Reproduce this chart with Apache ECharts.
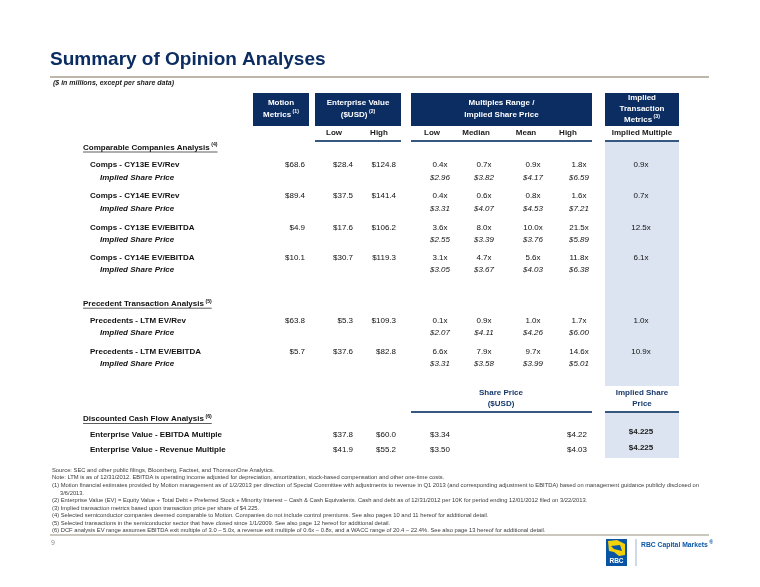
<!DOCTYPE html>
<html><head><meta charset="utf-8">
<script src="https://cdn.jsdelivr.net/npm/echarts@6/dist/echarts.min.js"></script>
<style>html,body{margin:0;padding:0;background:#fff}#c{width:760px;height:587px}</style>
</head><body><div id="c"></div>
<script>
// ================= DATA =================
const pageTitle = 'Summary of Opinion Analyses';
const pageSubtitle = '($ in millions, except per share data)';
const pageNumber = '9';
const brandName = 'RBC Capital Markets';

const headerMotion = ['Motion', 'Metrics'];            const headerMotionNote = '(1)';
const headerEV = ['Enterprise Value', '($USD)'];       const headerEVNote = '(2)';
const headerMultiples = ['Multiples Range /', 'Implied Share Price'];
const headerImplied = ['Implied', 'Transaction', 'Metrics']; const headerImpliedNote = '(3)';
const subHeadersEV = ['Low', 'High'];
const subHeadersMult = ['Low', 'Median', 'Mean', 'High'];
const subHeaderImplied = 'Implied Multiple';
const dcfHeaderPrice = ['Share Price', '($USD)'];
const dcfHeaderImplied = ['Implied Share', 'Price'];

const sectionTitles = ['Comparable Companies Analysis', 'Precedent Transaction Analysis', 'Discounted Cash Flow Analysis'];
const sectionNotes = ['(4)', '(5)', '(6)'];
const priceRowLabel = 'Implied Share Price';

// Comparable companies
const compsRows = ['Comps - CY13E EV/Rev', 'Comps - CY14E EV/Rev', 'Comps - CY13E EV/EBITDA', 'Comps - CY14E EV/EBITDA'];
const compsMotion = [68.6, 89.4, 4.9, 10.1];
const compsEvLow = [28.4, 37.5, 17.6, 30.7];
const compsEvHigh = [124.8, 141.4, 106.2, 119.3];
const compsMultLow = [0.4, 0.4, 3.6, 3.1];
const compsMultMedian = [0.7, 0.6, 8.0, 4.7];
const compsMultMean = [0.9, 0.8, 10.0, 5.6];
const compsMultHigh = [1.8, 1.6, 21.5, 11.8];
const compsPriceLow = [2.96, 3.31, 2.55, 3.05];
const compsPriceMedian = [3.82, 4.07, 3.39, 3.67];
const compsPriceMean = [4.17, 4.53, 3.76, 4.03];
const compsPriceHigh = [6.59, 7.21, 5.89, 6.38];
const compsImplied = [0.9, 0.7, 12.5, 6.1];

// Precedent transactions
const precRows = ['Precedents - LTM EV/Rev', 'Precedents - LTM EV/EBITDA'];
const precMotion = [63.8, 5.7];
const precEvLow = [5.3, 37.6];
const precEvHigh = [109.3, 82.8];
const precMultLow = [0.1, 6.6];
const precMultMedian = [0.9, 7.9];
const precMultMean = [1.0, 9.7];
const precMultHigh = [1.7, 14.6];
const precPriceLow = [2.07, 3.31];
const precPriceMedian = [4.11, 3.58];
const precPriceMean = [4.26, 3.99];
const precPriceHigh = [6.00, 5.01];
const precImplied = [1.0, 10.9];

// DCF
const dcfRows = ['Enterprise Value - EBITDA Multiple', 'Enterprise Value - Revenue Multiple'];
const dcfEvLow = [37.8, 41.9];
const dcfEvHigh = [60.0, 55.2];
const dcfPriceLow = [3.34, 3.50];
const dcfPriceHigh = [4.22, 4.03];
const dcfImplied = [4.225, 4.225];

const footnotes = [
  'Source: SEC and other public filings, Bloomberg, Factset, and ThomsonOne Analytics.',
  'Note: LTM is as of 12/31/2012. EBITDA is operating income adjusted for depreciation, amortization, stock-based compensation and other one-time costs.',
  '(1) Motion financial estimates provided by Motion management as of 1/2/2013 per direction of Special Committee with adjustments to revenue in Q1 2013 (and corresponding adjustment to EBITDA) based on management guidance publicly disclosed on',
  '3/6/2013.',
  '(2) Enterprise Value (EV) = Equity Value + Total Debt + Preferred Stock + Minority Interest \u2013 Cash & Cash Equivalents. Cash and debt as of 12/31/2012 per 10K for period ending 12/01/2012 filed on 3/22/2013.',
  '(3) Implied transaction metrics based upon transaction price per share of $4.225.',
  '(4) Selected semiconductor companies deemed comparable to Motion. Companies do not include control premiums. See also pages 10 and 11 hereof for additional detail.',
  '(5) Selected transactions in the semiconductor sector that have closed since 1/1/2009. See also page 12 hereof for additional detail.',
  '(6) DCF analysis EV range assumes EBITDA exit multiple of 3.0 \u2013 5.0x, a revenue exit multiple of 0.6x \u2013 0.8x, and a WACC range of 20.4 \u2013 22.4%. See also page 13 hereof for additional detail.'
];

// ================= LAYOUT / STYLE =================
const FONT = "'Liberation Sans', Arial, Helvetica, sans-serif";
const NAVY = '#0b2d62';
const INK = '#111111';
const SHADE = '#dce4f1';
const RULE = '#36577f';
const L = {
  title: {x: 50, y: 60, size: 19}, titleRule: {y: 77, x1: 50, x2: 709},
  subtitle: {x: 53, y: 83},
  boxTop: 93, boxBot: 126,
  boxMotion: [253, 309], boxEV: [315, 401], boxMult: [411, 592], boxImpl: [605, 679],
  hdrY2: [103, 114.5], hdrY3: [97.7, 108.5, 119.3],
  subY: 133, subRuleY: 141,
  evSubC: [334, 379], multSubC: [432, 476, 526, 568], implC: 642,
  shade1: [142, 386], shade2: [413, 458],
  dcfHdrY: [393, 404], dcfRuleY: 412, dcfHdrC: 501,
  secX: 83, rowX: 90, subX: 100,
  motionR: 305, evLowR: 353, evHighR: 396, multC: [440, 484, 533, 579], implValC: 641,
  sectionY: [147.5, 303.7, 419],
  compsY: [165, 196, 227.3, 257.3], precY: [320.7, 351.7], subDy: 12.5,
  dcfY: [434.3, 450], dcfImplY: [432, 447.7], dcfPriceC: [440, 577],
  foot: {x: 52, y0: 470.3, dy: 7.55, indent: 60, size: 5.8},
  bottomRule: {y: 535, x1: 50, x2: 709},
  pageNo: {x: 51, y: 543}
};

// ================= BUILD ELEMENTS =================
const ctx = document.createElement('canvas').getContext('2d');
function fontStr(o) { return (o.italic ? 'italic ' : '') + (o.bold ? 'bold ' : '') + o.size + 'px ' + FONT; }
function measure(text, o) { ctx.font = fontStr(o); return ctx.measureText(text).width; }

const items = [];
function T(x, y, text, o) {
  o = Object.assign({size: 8, bold: false, italic: false, fill: INK, align: 'left'}, o || {});
  items.push({kind: 'text', x, y, text, o});
}
// text with superscript note
function TS(x, y, text, note, o) {
  o = Object.assign({size: 8, bold: true, italic: false, fill: INK, align: 'left'}, o || {});
  const so = Object.assign({}, o, {size: 5.2, align: 'left'});
  const w = measure(text, o), ws = measure(note, so);
  let left = x;
  if (o.align === 'center') left = x - (w + 1.5 + ws) / 2;
  T(left, y, text, Object.assign({}, o, {align: 'left'}));
  T(left + w + 1.5, y - 2.6, note, so);
  return {left, right: left + w + 1.5 + ws};
}
function R(x1, y1, x2, y2, fill) { items.push({kind: 'rect', x: x1, y: y1, x2, y2, fill}); }
function Ln(x1, y1, x2, y2, stroke, w) { items.push({kind: 'line', x: x1, y: y1, x2, y2, stroke, w}); }
function P(pts, fill) { items.push({kind: 'poly', x: pts[0][0], y: pts[0][1], pts, fill}); }

const f1 = v => '$' + v.toFixed(1);
const fx = v => v.toFixed(1) + 'x';
const f2 = v => '$' + v.toFixed(2);
const f3 = v => '$' + v.toFixed(3);

// Background shaded column
R(L.boxImpl[0], L.shade1[0], L.boxImpl[1], L.shade1[1], SHADE);
R(L.boxImpl[0], L.shade2[0], L.boxImpl[1], L.shade2[1], SHADE);

// Title
T(L.title.x, L.title.y, pageTitle, {size: L.title.size, bold: true, fill: NAVY});
Ln(L.titleRule.x1, L.titleRule.y, L.titleRule.x2, L.titleRule.y, '#bcb7a8', 2);
T(L.subtitle.x, L.subtitle.y, pageSubtitle, {size: 7, bold: true, italic: true, fill: '#222'});

// Header boxes
[L.boxMotion, L.boxEV, L.boxMult, L.boxImpl].forEach(b => R(b[0], L.boxTop, b[1], L.boxBot, NAVY));
const cx = b => (b[0] + b[1]) / 2;
const hw = {size: 8, bold: true, fill: '#ffffff', align: 'center'};
T(cx(L.boxMotion), L.hdrY2[0], headerMotion[0], hw);
TS(cx(L.boxMotion), L.hdrY2[1], headerMotion[1], headerMotionNote, hw);
T(cx(L.boxEV), L.hdrY2[0], headerEV[0], hw);
TS(cx(L.boxEV), L.hdrY2[1], headerEV[1], headerEVNote, hw);
T(cx(L.boxMult), L.hdrY2[0], headerMultiples[0], hw);
T(cx(L.boxMult), L.hdrY2[1], headerMultiples[1], hw);
T(cx(L.boxImpl), L.hdrY3[0], headerImplied[0], hw);
T(cx(L.boxImpl), L.hdrY3[1], headerImplied[1], hw);
TS(cx(L.boxImpl), L.hdrY3[2], headerImplied[2], headerImpliedNote, hw);

// Sub headers
const sh = {size: 8, bold: true, fill: '#1a1a1a', align: 'center'};
subHeadersEV.forEach((s, i) => T(L.evSubC[i], L.subY, s, sh));
subHeadersMult.forEach((s, i) => T(L.multSubC[i], L.subY, s, sh));
T(L.implC, L.subY, subHeaderImplied, sh);
[L.boxEV, L.boxMult, L.boxImpl].forEach(b => Ln(b[0], L.subRuleY, b[1], L.subRuleY, RULE, 2));

// Sections
function section(i) {
  const r = TS(L.secX, L.sectionY[i], sectionTitles[i], sectionNotes[i], {size: 8, bold: true});
  Ln(L.secX, L.sectionY[i] + 4.5, r.right, L.sectionY[i] + 4.5, '#333', 0.8);
}
const vs = {size: 8};
const ps = {size: 8, italic: true, align: 'center'};
function block(rows, y, motion, evL, evH, mL, mMd, mMn, mH, pL, pMd, pMn, pH, impl) {
  rows.forEach((name, i) => {
    const yy = y[i], y2 = yy + L.subDy;
    T(L.rowX, yy, name, {size: 8, bold: true});
    T(L.subX, y2, priceRowLabel, {size: 8, bold: true, italic: true});
    T(L.motionR, yy, f1(motion[i]), Object.assign({}, vs, {align: 'right'}));
    T(L.evLowR, yy, f1(evL[i]), Object.assign({}, vs, {align: 'right'}));
    T(L.evHighR, yy, f1(evH[i]), Object.assign({}, vs, {align: 'right'}));
    [mL, mMd, mMn, mH].forEach((arr, k) => T(L.multC[k], yy, fx(arr[i]), Object.assign({}, vs, {align: 'center'})));
    [pL, pMd, pMn, pH].forEach((arr, k) => T(L.multC[k], y2, f2(arr[i]), ps));
    T(L.implValC, yy, fx(impl[i]), Object.assign({}, vs, {align: 'center'}));
  });
}
section(0);
block(compsRows, L.compsY, compsMotion, compsEvLow, compsEvHigh, compsMultLow, compsMultMedian, compsMultMean, compsMultHigh,
      compsPriceLow, compsPriceMedian, compsPriceMean, compsPriceHigh, compsImplied);
section(1);
block(precRows, L.precY, precMotion, precEvLow, precEvHigh, precMultLow, precMultMedian, precMultMean, precMultHigh,
      precPriceLow, precPriceMedian, precPriceMean, precPriceHigh, precImplied);

// DCF headers
const dh = {size: 8, bold: true, fill: '#17396b', align: 'center'};
T(L.dcfHdrC, L.dcfHdrY[0], dcfHeaderPrice[0], dh);
T(L.dcfHdrC, L.dcfHdrY[1], dcfHeaderPrice[1], dh);
T(L.implC, L.dcfHdrY[0], dcfHeaderImplied[0], dh);
T(L.implC, L.dcfHdrY[1], dcfHeaderImplied[1], dh);
Ln(L.boxMult[0], L.dcfRuleY, L.boxMult[1], L.dcfRuleY, RULE, 2);
Ln(L.boxImpl[0], L.dcfRuleY, L.boxImpl[1], L.dcfRuleY, RULE, 2);
section(2);
dcfRows.forEach((name, i) => {
  const yy = L.dcfY[i];
  T(L.rowX, yy, name, {size: 8, bold: true});
  T(L.evLowR, yy, f1(dcfEvLow[i]), Object.assign({}, vs, {align: 'right'}));
  T(L.evHighR, yy, f1(dcfEvHigh[i]), Object.assign({}, vs, {align: 'right'}));
  T(L.dcfPriceC[0], yy, f2(dcfPriceLow[i]), Object.assign({}, vs, {align: 'center'}));
  T(L.dcfPriceC[1], yy, f2(dcfPriceHigh[i]), Object.assign({}, vs, {align: 'center'}));
  T(L.implValC, L.dcfImplY[i], f3(dcfImplied[i]), {size: 8, bold: true, fill: '#1a1a1a', align: 'center'});
});

// Footnotes
footnotes.forEach((s, i) => {
  const x = (s === '3/6/2013.') ? L.foot.indent : L.foot.x;
  T(x, L.foot.y0 + i * L.foot.dy, s, {size: L.foot.size, fill: '#3a3a3a'});
});
Ln(L.bottomRule.x1, L.bottomRule.y, L.bottomRule.x2, L.bottomRule.y, '#b9b5a8', 1.5);
T(L.pageNo.x, L.pageNo.y, pageNumber, {size: 7, fill: '#8a8a8a'});

// Logo
R(606, 539, 627, 566, '#0754a4');
P([[608, 541], [617, 540], [625, 544], [625, 555], [619, 556], [614, 552], [609, 551]], '#f2d10a');
P([[611, 546], [620, 545], [622, 551], [614, 549]], '#0754a4');
T(616.5, 561, 'RBC', {size: 6.5, bold: true, fill: '#ffffff', align: 'center'});
Ln(636, 539, 636, 566, '#9db5d6', 1);
TS(641, 545, brandName, '\u00ae', {size: 6.8, bold: true, fill: '#0b58a8'});

// ================= CHART =================
const chart = echarts.init(document.getElementById('c'), null, {renderer: 'canvas'});
chart.setOption({
  animation: false,
  backgroundColor: '#ffffff',
  grid: {left: 0, top: 0, right: 0, bottom: 0},
  xAxis: {type: 'value', min: 0, max: 760, show: false},
  yAxis: {type: 'value', min: 0, max: 587, inverse: true, show: false},
  series: [{
    type: 'custom',
    clip: false,
    silent: true,
    encode: {x: 0, y: 1},
    data: items.map(it => [it.x, it.y]),
    renderItem: function (params, api) {
      const it = items[params.dataIndex];
      const p = api.coord([it.x, it.y]);
      if (it.kind === 'rect') {
        const q = api.coord([it.x2, it.y2]);
        return {type: 'rect', shape: {x: p[0], y: p[1], width: q[0] - p[0], height: q[1] - p[1]}, style: {fill: it.fill}};
      }
      if (it.kind === 'line') {
        const q = api.coord([it.x2, it.y2]);
        return {type: 'line', shape: {x1: p[0], y1: p[1], x2: q[0], y2: q[1]}, style: {stroke: it.stroke, lineWidth: it.w}};
      }
      if (it.kind === 'poly') {
        return {type: 'polygon', shape: {points: it.pts.map(pt => api.coord(pt))}, style: {fill: it.fill}};
      }
      const o = it.o;
      return {
        type: 'text', x: p[0], y: p[1],
        style: {text: it.text, font: fontStr(o), fill: o.fill, align: o.align, verticalAlign: 'middle',
                textAlign: o.align, textVerticalAlign: 'middle'}
      };
    }
  }]
});
</script>
</body></html>
